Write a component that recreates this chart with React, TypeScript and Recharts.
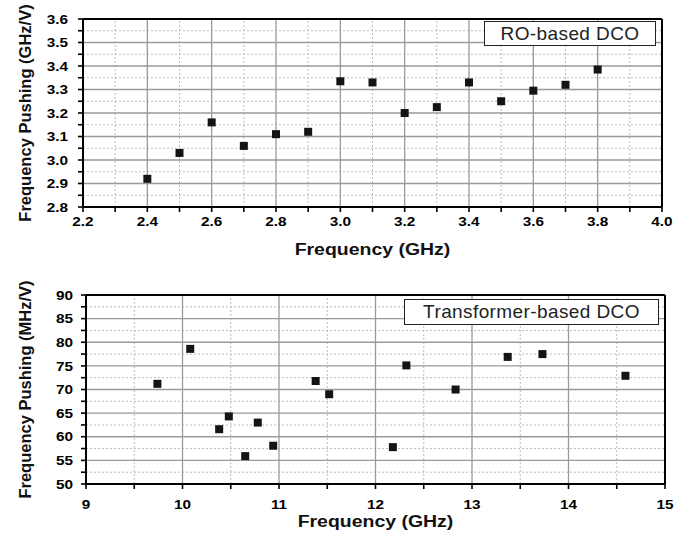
import React from 'react';
import {
  ScatterChart,
  Scatter,
  XAxis,
  YAxis,
  ZAxis,
  ReferenceLine
} from 'recharts';

// RO-based DCO (top panel)
const roFreq = [2.4, 2.5, 2.6, 2.7, 2.8, 2.9, 3.0, 3.1, 3.2, 3.3, 3.4, 3.5, 3.6, 3.7, 3.8];
const roPushing = [2.92, 3.03, 3.16, 3.06, 3.11, 3.12, 3.335, 3.33, 3.2, 3.225, 3.33, 3.25, 3.295, 3.32, 3.385];

const roXMajor = [2.2, 2.4, 2.6, 2.8, 3.0, 3.2, 3.4, 3.6, 3.8, 4.0];
const roXAll = [2.2, 2.3, 2.4, 2.5, 2.6, 2.7, 2.8, 2.9, 3.0, 3.1, 3.2, 3.3, 3.4, 3.5, 3.6, 3.7, 3.8, 3.9, 4.0];
const roYMajor = [2.8, 2.9, 3.0, 3.1, 3.2, 3.3, 3.4, 3.5, 3.6];
const roYAll = [2.8, 2.85, 2.9, 2.95, 3.0, 3.05, 3.1, 3.15, 3.2, 3.25, 3.3, 3.35, 3.4, 3.45, 3.5, 3.55, 3.6];

// Transformer-based DCO (bottom panel)
const tfFreq = [9.74, 10.08, 10.38, 10.48, 10.65, 10.78, 10.94, 11.38, 11.52, 12.18, 12.32, 12.83, 13.37, 13.73, 14.59];
const tfPushing = [71.2, 78.6, 61.6, 64.3, 55.9, 63.0, 58.1, 71.8, 69.0, 57.8, 75.1, 70.0, 76.9, 77.5, 72.9];

const tfXMajor = [9, 10, 11, 12, 13, 14, 15];
const tfXAll = [9, 9.5, 10, 10.5, 11, 11.5, 12, 12.5, 13, 13.5, 14, 14.5, 15];
const tfYMajor = [50, 55, 60, 65, 70, 75, 80, 85, 90];
const tfYAll = [50, 52.5, 55, 57.5, 60, 62.5, 65, 67.5, 70, 72.5, 75, 77.5, 80, 82.5, 85, 87.5, 90];

const FONT = '"Liberation Sans", Arial, sans-serif';
const INK = '#000';
const STRETCH = 1.18; // the source figure is a bit wider than tall

const isMajor = (major: number[], v: number) => major.some((m) => Math.abs(m - v) < 1e-9);

// tick label, slightly widened
const makeTick = (major: number[], decimals: number, side: 'x' | 'y') => (props: any) => {
  const { x, y, payload } = props;
  const v = payload.value as number;
  if (!isMajor(major, v)) return <g />;
  return (
    <text
      x={x}
      y={y}
      transform={`translate(${x},${y}) scale(${STRETCH},1) translate(${-x},${-y})`}
      textAnchor={side === 'x' ? 'middle' : 'end'}
      dy={side === 'x' ? '0.71em' : '0.36em'}
      fontSize={13}
      fontWeight={700}
      fill="#000"
      fontFamily={FONT}
    >
      {v.toFixed(decimals)}
    </text>
  );
};

interface PanelProps {
  xs: number[];
  ys: number[];
  xMajor: number[];
  xAll: number[];
  yMajor: number[];
  yAll: number[];
  xLabel: string;
  yLabel: string;
  legend: string;
  decimals: number;
  width: number;
  height: number;
  margin: { top: number; right: number; left: number; bottom: number };
  yAxisWidth: number;
  xAxisHeight: number;
  xTickMargin: number;
  yTickMargin: number;
  xTitleDy: number;
  legendBox: { left: number; top: number; width: number; height: number };
}

const Panel: React.FC<PanelProps> = (p) => {
  const data = p.xs.map((x, i) => ({ x, y: p.ys[i] }));
  const xDomain: [number, number] = [p.xMajor[0], p.xMajor[p.xMajor.length - 1]];
  const yDomain: [number, number] = [p.yMajor[0], p.yMajor[p.yMajor.length - 1]];
  const tickLine = { stroke: INK, strokeWidth: 1.6, strokeOpacity: 1 };

  // grid lines inside the frame
  const inner = (all: number[]) => all.slice(1, -1);
  const xMinorGrid = inner(p.xAll).filter((v) => !isMajor(p.xMajor, v));
  const yMinorGrid = inner(p.yAll).filter((v) => !isMajor(p.yMajor, v));
  const xMajorGrid = inner(p.xMajor);
  const yMajorGrid = inner(p.yMajor);

  return (
    <div style={{ position: 'relative', width: p.width, height: p.height }}>
      <ScatterChart width={p.width} height={p.height} margin={p.margin}>
        {xMinorGrid.map((v) => (
          <ReferenceLine key={`xm${v}`} x={v} stroke="#bcbcbc" strokeDasharray="2 2" />
        ))}
        {yMinorGrid.map((v) => (
          <ReferenceLine key={`ym${v}`} y={v} stroke="#bcbcbc" strokeDasharray="2 2" />
        ))}
        {xMajorGrid.map((v) => (
          <ReferenceLine key={`xM${v}`} x={v} stroke="#9a9a9a" strokeWidth={1.3} />
        ))}
        {yMajorGrid.map((v) => (
          <ReferenceLine key={`yM${v}`} y={v} stroke="#9a9a9a" strokeWidth={1.3} />
        ))}
        {/* black frame on the domain edges */}
        {xDomain.map((v) => (
          <ReferenceLine key={`xF${v}`} x={v} stroke={INK} strokeWidth={2} ifOverflow="visible" />
        ))}
        {yDomain.map((v) => (
          <ReferenceLine key={`yF${v}`} y={v} stroke={INK} strokeWidth={2} ifOverflow="visible" />
        ))}
        <XAxis
          dataKey="x"
          type="number"
          domain={xDomain}
          ticks={p.xAll}
          interval={0}
          allowDataOverflow
          height={p.xAxisHeight}
          tickSize={5}
          tickMargin={p.xTickMargin}
          stroke={INK}
          axisLine={false}
          tickLine={tickLine}
          tick={makeTick(p.xMajor, p.decimals, 'x')}
          label={({ viewBox }: any) => {
            const cx = viewBox.x + viewBox.width / 2;
            const cy = viewBox.y + p.xTitleDy;
            return (
              <text
                x={cx}
                y={cy}
                transform={`translate(${cx},${cy}) scale(${STRETCH},1) translate(${-cx},${-cy})`}
                textAnchor="middle"
                fontSize={16.5}
                fontWeight={700}
                fill="#111"
                fontFamily={FONT}
              >
                {p.xLabel}
              </text>
            );
          }}
        />
        <XAxis
          xAxisId="top"
          orientation="top"
          type="number"
          domain={xDomain}
          ticks={p.xAll}
          interval={0}
          allowDataOverflow
          mirror
          height={0}
          tick={false}
          tickSize={5}
          stroke={INK}
          axisLine={false}
          tickLine={tickLine}
        />
        <YAxis
          dataKey="y"
          type="number"
          domain={yDomain}
          ticks={p.yAll}
          interval={0}
          allowDataOverflow
          width={p.yAxisWidth}
          tickSize={5}
          tickMargin={p.yTickMargin}
          stroke={INK}
          axisLine={false}
          tickLine={tickLine}
          tick={makeTick(p.yMajor, p.decimals, 'y')}
          label={({ viewBox }: any) => {
            const cx = 25;
            const cy = viewBox.y + viewBox.height / 2;
            return (
              <text
                x={cx}
                y={cy}
                transform={`rotate(-90, ${cx}, ${cy})`}
                textAnchor="middle"
                dominantBaseline="central"
                fontSize={16.5}
                fontWeight={700}
                fill="#111"
                fontFamily={FONT}
              >
                {p.yLabel}
              </text>
            );
          }}
        />
        <YAxis
          yAxisId="right"
          orientation="right"
          type="number"
          domain={yDomain}
          ticks={p.yAll}
          interval={0}
          allowDataOverflow
          mirror
          width={0}
          tick={false}
          tickSize={5}
          stroke={INK}
          axisLine={false}
          tickLine={tickLine}
        />
        <ZAxis range={[100, 100]} />
        <Scatter data={data} fill="#141414" shape="square" isAnimationActive={false} />
      </ScatterChart>
      <div
        style={{
          position: 'absolute',
          left: p.legendBox.left,
          top: p.legendBox.top,
          width: p.legendBox.width,
          height: p.legendBox.height,
          boxSizing: 'border-box',
          border: '1px solid #222',
          background: '#fff',
          fontFamily: FONT,
          fontSize: 19,
          letterSpacing: 0.4,
          color: '#222',
          display: 'flex',
          alignItems: 'center',
          justifyContent: 'center'
        }}
      >
        {p.legend}
      </div>
    </div>
  );
};

const App: React.FC = () => {
  return (
    <div style={{ position: 'absolute', left: 0, top: 0, width: 687, height: 535, background: '#fff' }}>
      <Panel
        xs={roFreq}
        ys={roPushing}
        xMajor={roXMajor}
        xAll={roXAll}
        yMajor={roYMajor}
        yAll={roYAll}
        xLabel="Frequency (GHz)"
        yLabel="Frequency Pushing (GHz/V)"
        legend="RO-based DCO"
        decimals={1}
        width={687}
        height={265}
        margin={{ top: 19, right: 25, left: 0, bottom: 0 }}
        yAxisWidth={83}
        xAxisHeight={58}
        xTickMargin={5}
        yTickMargin={10}
        xTitleDy={48}
        legendBox={{ left: 484, top: 21, width: 172, height: 25 }}
      />
      <Panel
        xs={tfFreq}
        ys={tfPushing}
        xMajor={tfXMajor}
        xAll={tfXAll}
        yMajor={tfYMajor}
        yAll={tfYAll}
        xLabel="Frequency (GHz)"
        yLabel="Frequency Pushing (MHz/V)"
        legend="Transformer-based DCO"
        decimals={0}
        width={687}
        height={270}
        margin={{ top: 30, right: 22, left: 0, bottom: 0 }}
        yAxisWidth={86}
        xAxisHeight={51}
        xTickMargin={11}
        yTickMargin={8}
        xTitleDy={43}
        legendBox={{ left: 404, top: 34, width: 255, height: 26 }}
      />
    </div>
  );
};

export default App;
